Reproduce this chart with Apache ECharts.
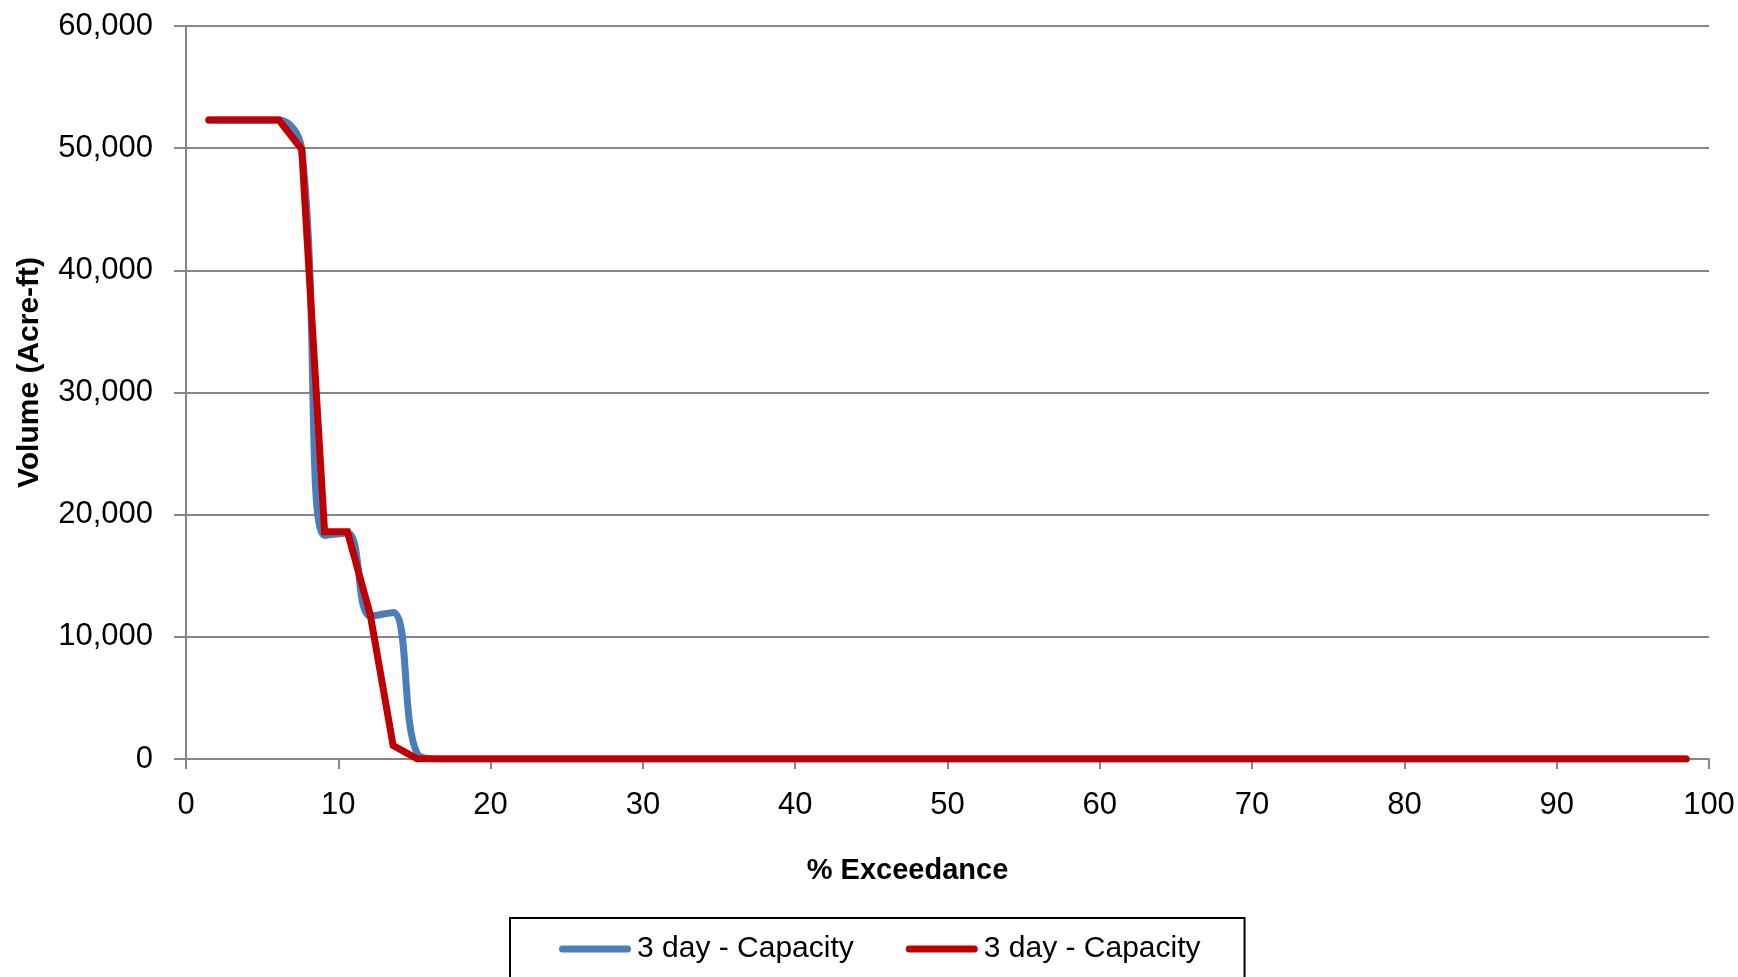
<!DOCTYPE html>
<html>
<head>
<meta charset="utf-8">
<script src="https://cdn.jsdelivr.net/npm/echarts@6/dist/echarts.min.js"></script>
<style>
  html, body { margin: 0; padding: 0; background: #ffffff; }
  #main { width: 1738px; height: 977px; }
</style>
</head>
<body>
<div id="main"></div>
<script>
// % exceedance positions (flat zero tail continues to the last point)
var exceedance = [1.5, 3.0, 4.5, 6.1, 7.6, 9.1, 10.6, 12.1, 13.6, 15.2, 16.7, 18.2, 19.7, 98.5];
var blueVolume = [52300, 52300, 52300, 52300, 49900, 18300, 18500, 11700, 12000, 400, 0, 0, 0, 0];
var redVolume  = [52300, 52300, 52300, 52300, 49900, 18600, 18600, 11800, 1100, 0, 0, 0, 0, 0];
var seriesNames = ['3 day - Capacity', '3 day - Capacity '];
var xTicks = [0, 100, 10];
var yTicks = [0, 60000, 10000];

function pairs(xs, ys) {
    return xs.map(function (x, i) { return [x, ys[i]]; });
}

var font = 'Liberation Sans, Arial, sans-serif';
var grey = '#868686';
var capsule = 'path://M3.5,0 L68.5,0 A3.5,3.5 0 0 1 68.5,7 L3.5,7 A3.5,3.5 0 0 1 3.5,0 Z';

var option = {
    backgroundColor: '#ffffff',
    animation: false,
    textStyle: { fontFamily: font },
    grid: {
        left: 186,
        right: 29,
        top: 26,
        bottom: 218
    },
    legend: {
        left: 510,
        top: 918,
        data: [
            { name: seriesNames[0], icon: capsule },
            { name: seriesNames[1], icon: capsule }
        ],
        itemWidth: 72,
        itemHeight: 7,
        itemGap: 52,
        padding: [16, 44, 40, 49],
        borderColor: '#000000',
        borderWidth: 2,
        formatter: function (n) { return n.trim(); },
        textStyle: { fontSize: 30, color: '#000000', fontFamily: font, padding: [0, 0, 0, 1] }
    },
    xAxis: {
        type: 'value',
        min: xTicks[0],
        max: xTicks[1],
        interval: xTicks[2],
        name: '% Exceedance',
        nameLocation: 'middle',
        nameGap: 97,
        nameTextStyle: { fontSize: 29, fontWeight: 'bold', color: '#000000', padding: [0, 80, 0, 0] },
        axisLine: { show: true, lineStyle: { color: grey, width: 2 } },
        axisTick: { show: true, length: 10, lineStyle: { color: grey, width: 2 } },
        axisLabel: { fontSize: 31, color: '#000000', margin: 31 },
        splitLine: { show: false }
    },
    yAxis: {
        type: 'value',
        min: yTicks[0],
        max: yTicks[1],
        interval: yTicks[2],
        name: 'Volume (Acre-ft)',
        nameLocation: 'middle',
        nameGap: 141,
        nameTextStyle: { fontSize: 30, fontWeight: 'bold', color: '#000000', padding: [0, 0, 0, 40] },
        axisLine: { show: true, lineStyle: { color: grey, width: 2 } },
        axisTick: { show: true, length: 12, lineStyle: { color: grey, width: 2 } },
        axisLabel: {
            fontSize: 31,
            color: '#000000',
            margin: 33,
            formatter: function (v) { return v.toLocaleString('en-US'); }
        },
        splitLine: { show: true, lineStyle: { color: grey, width: 2 } }
    },
    series: [{
        name: seriesNames[0],
        type: 'line',
        smooth: 0.4,
        symbol: 'none',
        color: '#4A7EBB',
        lineStyle: { color: '#4A7EBB', width: 7, cap: 'round', join: 'round' },
        data: pairs(exceedance, blueVolume)
    }, {
        name: seriesNames[1],
        type: 'line',
        symbol: 'none',
        color: '#C00000',
        lineStyle: { color: '#C00000', width: 7, cap: 'round', join: 'miter' },
        data: pairs(exceedance, redVolume)
    }]
};

var chart = echarts.init(document.getElementById('main'));
chart.setOption(option);
</script>
</body>
</html>
